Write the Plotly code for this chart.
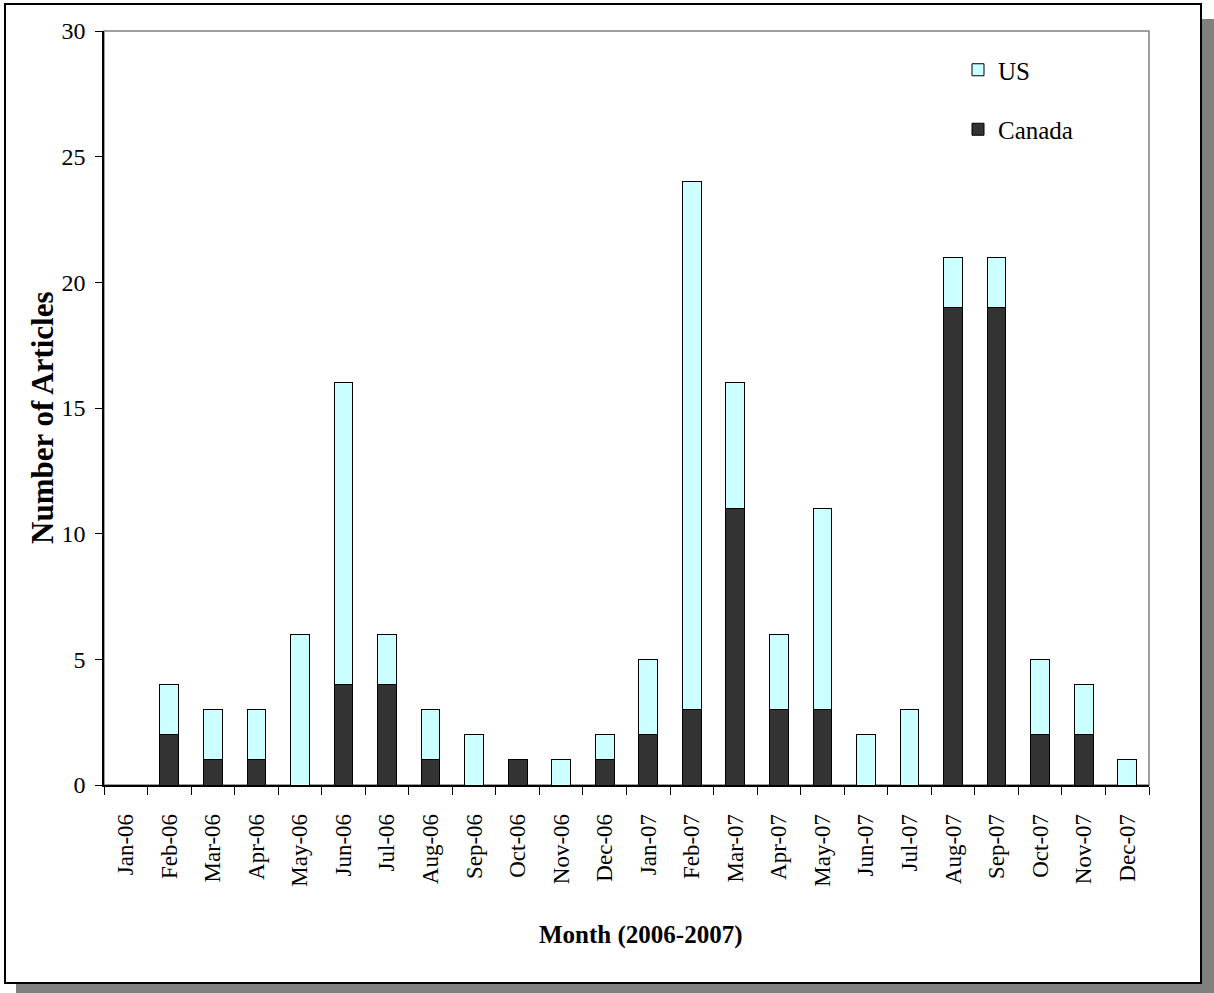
import plotly.graph_objects as go

months = ["Jan-06", "Feb-06", "Mar-06", "Apr-06", "May-06", "Jun-06", "Jul-06", "Aug-06",
          "Sep-06", "Oct-06", "Nov-06", "Dec-06", "Jan-07", "Feb-07", "Mar-07", "Apr-07",
          "May-07", "Jun-07", "Jul-07", "Aug-07", "Sep-07", "Oct-07", "Nov-07", "Dec-07"]
canada = [0, 2, 1, 1, 0, 4, 4, 1, 0, 1, 0, 1, 2, 3, 11, 3, 3, 0, 0, 19, 19, 2, 2, 0]
us = [0, 2, 2, 2, 6, 12, 2, 2, 2, 0, 1, 1, 3, 21, 5, 3, 8, 2, 3, 2, 2, 3, 2, 1]

W, H = 1214, 993
L, R, T, B = 104, 1149, 31, 785

def px(x):
    return (x - L) / (R - L)

def py(y):
    return (B - y) / (B - T)

FONT = "Liberation Serif"

fig = go.Figure()
fig.add_trace(go.Bar(x=months, y=canada, name="Canada", legendgroup="c", legendrank=2,
                     marker=dict(color="#333333", line=dict(color="black", width=1))))
fig.add_trace(go.Bar(x=months, y=us, name="US", legendgroup="u", legendrank=1,
                     marker=dict(color="#CCFFFF", line=dict(color="black", width=1))))

shapes = [
    dict(type="rect", xref="paper", yref="paper", x0=px(16), x1=px(1214), y0=py(19), y1=py(993),
         fillcolor="#808080", line=dict(width=0), layer="below"),
    dict(type="rect", xref="paper", yref="paper", x0=px(5), x1=px(1201), y0=py(4), y1=py(983),
         fillcolor="white", line=dict(color="black", width=2), layer="below"),
    dict(type="rect", xref="paper", yref="paper", x0=0, x1=1, y0=0, y1=1,
         fillcolor="rgba(0,0,0,0)", line=dict(color="#808080", width=1.5), layer="below"),
]

fig.update_layout(
    width=W, height=H,
    margin=dict(l=L, r=W - R, t=T, b=H - B, pad=0),
    barmode="stack", bargap=0.57,
    paper_bgcolor="white", plot_bgcolor="rgba(0,0,0,0)",
    font=dict(family=FONT, color="black"),
    shapes=shapes,
    showlegend=True,
    legend=dict(x=px(958), y=py(47), xanchor="left", yanchor="top",
                traceorder="grouped", tracegroupgap=24,
                font=dict(family=FONT, size=25), bgcolor="rgba(0,0,0,0)"),
    xaxis=dict(type="category", tickson="boundaries", ticks="outside", ticklen=8,
               tickcolor="black", showline=True, linecolor="black", linewidth=1.5,
               tickangle=-90, tickfont=dict(family=FONT, size=23), showgrid=False,
               ticklabelstandoff=18),
    yaxis=dict(range=[0, 30], dtick=5, ticks="outside", ticklen=7, tickcolor="black",
               showline=True, linecolor="black", linewidth=1.5, showgrid=False,
               zeroline=False, tickfont=dict(family=FONT, size=24), ticklabelstandoff=5),
    annotations=[
        dict(text="<b>Month (2006-2007)</b>", xref="paper", yref="paper",
             x=px(640), y=py(935), xanchor="center", yanchor="middle", showarrow=False,
             font=dict(family=FONT, size=25)),
        dict(text="<b>Number of Articles</b>", xref="paper", yref="paper",
             x=px(42), y=py(418), xanchor="center", yanchor="middle", showarrow=False,
             textangle=-90, font=dict(family=FONT, size=31)),
    ],
)

fig.write_html("out.html")
